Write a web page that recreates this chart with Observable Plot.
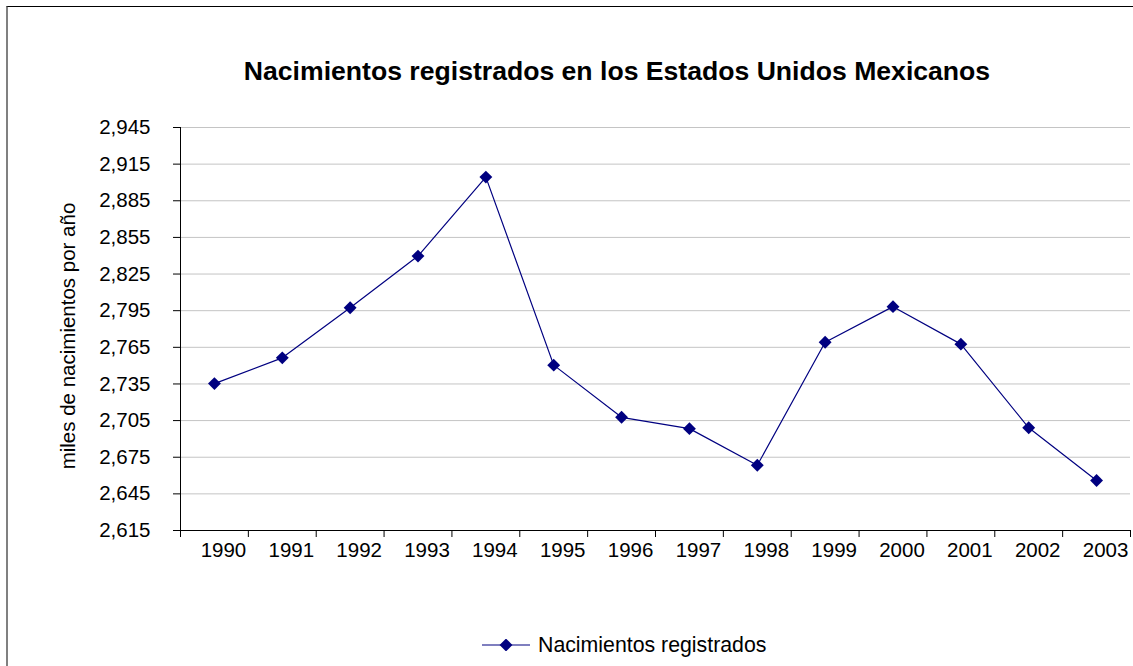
<!DOCTYPE html>
<html>
<head>
<meta charset="utf-8">
<script src="https://cdn.jsdelivr.net/npm/d3@7"></script>
<script src="https://cdn.jsdelivr.net/npm/@observablehq/plot@0.6"></script>
<style>
  html, body { margin: 0; padding: 0; background: #fff; overflow: hidden; }
  body { width: 1133px; height: 666px; position: relative; font-family: Arial, "Liberation Sans", sans-serif; }
  #frame { position: absolute; left: 6px; top: 6px; width: 1200px; height: 700px;
           border-top: 1px solid #000; border-left: 2px solid #808080; box-sizing: border-box; }
  #chart { position: absolute; left: 0; top: 0; }
  #title { position: absolute; left: 617px; top: 58px; transform: translateX(-50%);
           white-space: nowrap; font-weight: bold; font-size: 26.6px; line-height: 26.6px; color: #000; }
  #legend { position: absolute; left: 482px; top: 633px; height: 24px; display: flex; align-items: center;
            font-size: 21.3px; color: #000; white-space: nowrap; }
  #legend svg { margin-right: 8px; }
</style>
</head>
<body>
<div id="frame"></div>
<div id="chart"></div>
<div id="title">Nacimientos registrados en los Estados Unidos Mexicanos</div>
<div id="legend"></div>
<script>
const seriesName = "Nacimientos registrados";
const years = [1990, 1991, 1992, 1993, 1994, 1995, 1996, 1997, 1998, 1999, 2000, 2001, 2002, 2003];
const births = [2735.3, 2756.4, 2797.4, 2839.7, 2904.4, 2750.4, 2707.7, 2698.4, 2668.4, 2769.1, 2798.3, 2767.6, 2699.1, 2655.9];
const yTicks = [2615, 2645, 2675, 2705, 2735, 2765, 2795, 2825, 2855, 2885, 2915, 2945];
const yLabel = "miles de nacimientos por año";

const data = years.map((year, i) => ({year, value: births[i]}));
const boundaries = years.map(y => y - 0.5).concat([years[years.length - 1] + 0.5]);
const navy = "#000080";

const chart = Plot.plot({
  width: 1133,
  height: 666,
  marginLeft: 180,
  marginRight: 3,
  marginTop: 127,
  marginBottom: 136,
  x: {type: "linear", domain: [boundaries[0], boundaries[boundaries.length - 1]]},
  y: {domain: [yTicks[0], yTicks[yTicks.length - 1]]},
  style: {fontFamily: "Arial, 'Liberation Sans', sans-serif", fontSize: "20.5px", color: "#000", background: "transparent", overflow: "visible"},
  marks: [
    Plot.gridY(yTicks, {stroke: "#c4c4c4", strokeOpacity: 1, strokeWidth: 1}),
    Plot.axisY(yTicks, {tickSize: 7, tickPadding: 23, tickFormat: d3.format(","), label: null, fontSize: 20.5}),
    Plot.text([yLabel], {text: d => d, frameAnchor: "left", rotate: -90, dx: -112, dy: 7, textAnchor: "middle", fontSize: 20.5, fill: "#000"}),
    Plot.axisX(boundaries, {tickSize: 7, tickFormat: () => "", label: null}),
    Plot.axisX(years, {tickSize: 0, tickPadding: 12, dx: 9, tickFormat: d => String(d), label: null, fontSize: 20.5}),
    Plot.ruleX([boundaries[0]], {stroke: "#000"}),
    Plot.ruleY([yTicks[0]], {stroke: "#000"}),
    Plot.line(data, {x: "year", y: "value", stroke: navy, strokeWidth: 1.2}),
    Plot.dot(data, {x: "year", y: "value", symbol: "diamond2", r: 5.8, fill: navy, stroke: "none"})
  ]
});
document.getElementById("chart").appendChild(chart);

const legend = document.getElementById("legend");
legend.innerHTML =
  `<svg width="48" height="12" viewBox="0 0 48 12">
     <line x1="0" y1="6" x2="48" y2="6" stroke="${navy}" stroke-width="1.2"/>
     <path d="${d3.symbol(d3.symbolDiamond2, Math.PI * 5.8 * 5.8)()}" transform="translate(24,6)" fill="${navy}"/>
   </svg><span>${seriesName}</span>`;
</script>
</body>
</html>
